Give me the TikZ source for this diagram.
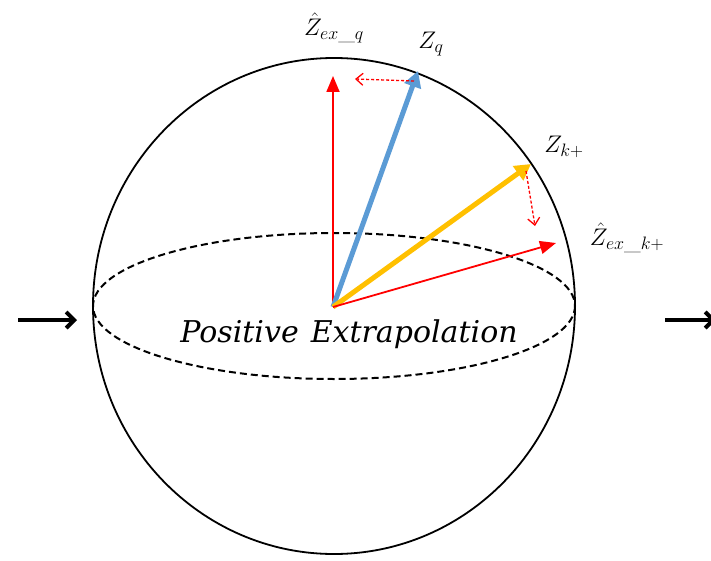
\documentclass[tikz,border=0pt]{standalone}
\usepackage{fix-cm}
\usepackage{fontspec}
\newfontfamily\capfont{DejaVu Serif}
\DeclareMathSizes{24}{24}{18}{14}
\usetikzlibrary{arrows.meta}
\definecolor{vred}{RGB}{255,0,0}
\definecolor{vblue}{RGB}{91,155,213}
\definecolor{vyellow}{RGB}{255,192,0}
\begin{document}
\begin{tikzpicture}[x=1pt,y=-1pt,
  redvec/.style={draw=vred,line width=1.8pt,-{Triangle[length=16pt,width=13pt]},vred},
  thickvec/.style={line width=5pt,-{Triangle[length=16pt,width=17pt]}},
  dotvec/.style={draw=vred,line width=1.3pt,dash pattern=on 3pt off 2pt,-{Straight Barb[length=7pt,width=12pt]}},
  blackarr/.style={line width=4pt,-{Straight Barb[length=8pt,width=16pt]}},
  lbl/.style={font=\fontsize{24}{26}\selectfont}
]
\useasboundingbox (0,0) rectangle (711,561);
\fill[white] (0,0) rectangle (711,561);
\coordinate (O) at (333,307);
% sphere
\draw[line width=1.8pt] (334,306) ellipse [x radius=241, y radius=248];
\draw[line width=2pt,dash pattern=on 7pt off 4pt] (334,306) ellipse [x radius=241, y radius=73];
% side arrows
\coordinate (la) at (18,320); \coordinate (lb) at (77,320);
\coordinate (ra) at (665,320); \coordinate (rb) at (716,320);
\draw[blackarr] (la) -- (lb);
\draw[blackarr] (ra) -- (rb);
% vectors
\coordinate (Tq) at (333,76);
\coordinate (Zq) at (418,71);
\coordinate (Zk) at (531,164);
\coordinate (Tk) at (556,243);
\draw[redvec] (O) -- (Tq);
\draw[thickvec,vblue] (O) -- (Zq);
\draw[thickvec,vyellow] (O) -- (Zk);
\draw[redvec] (O) -- (Tk);
% dotted offsets
\coordinate (d1a) at (414,81); \coordinate (d1b) at (355,79);
\coordinate (d2a) at (526,171); \coordinate (d2b) at (535,226);
\draw[dotvec] (d1a) -- (d1b);
\draw[dotvec] (d2a) -- (d2b);
% labels
\node[lbl] (lTq) at (334,28) {$\hat{Z}_{ex\_q}$};
\node[lbl] (lZq) at (431,44) {$Z_q$};
\node[lbl] (lZk) at (564,147) {$Z_{k+}$};
\node[lbl] (lTk) at (627,238) {$\hat{Z}_{ex\_k+}$};
\node[font=\fontsize{30}{32}\selectfont\capfont\itshape,anchor=base] (txt) at (349,342) {Positive\hspace{12pt}Extrapolation};
\end{tikzpicture}
\end{document}
